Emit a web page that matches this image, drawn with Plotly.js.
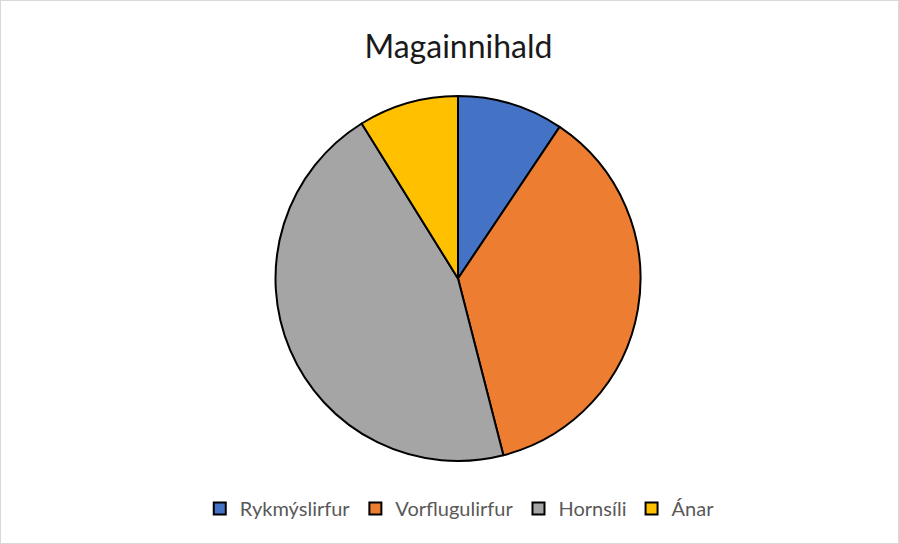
<!DOCTYPE html>
<html>
<head>
<meta charset="utf-8">
<script src="https://cdn.plot.ly/plotly-3.0.1.min.js"></script>
<style>
  html, body { margin: 0; padding: 0; background: #fff; }
  #wrap { position: relative; width: 899px; height: 544px; }
  #chart { width: 899px; height: 544px; }
  #frame { position: absolute; left: 0; top: 0; width: 899px; height: 544px; box-sizing: border-box; border: 1px solid #d9d9d9; pointer-events: none; }
</style>
</head>
<body>
<div id="wrap"><div id="chart"></div><div id="frame"></div></div>
<script>
const categories = ["Rykmýslirfur", "Vorflugulirfur", "Hornsíli", "Ánar"];
const values = [9.4, 36.6, 45.15, 8.85];
const colors = ["#4472C4", "#ED7D31", "#A5A5A5", "#FFC000"];

const data = [{
  type: "pie",
  labels: categories,
  values: values,
  sort: false,
  direction: "clockwise",
  rotation: 0,
  textinfo: "none",
  hoverinfo: "label+percent",
  marker: { colors: colors, line: { color: "#000000", width: 2 } }
}];

const layout = {
  width: 899,
  height: 544,
  margin: { l: 17, r: 0, t: 96, b: 83, pad: 0 },
  paper_bgcolor: "#ffffff",
  plot_bgcolor: "#ffffff",
  font: { family: "Lato, sans-serif", color: "#595959" },
  title: {
    text: "Magainnihald",
    font: { family: "Lato, sans-serif", size: 32, color: "#1a1a1a" },
    x: 0.51, xanchor: "center",
    y: 1 - 47 / 544, yanchor: "middle", yref: "container"
  },
  showlegend: true,
  legend: {
    orientation: "h",
    x: 0.502, xanchor: "center",
    y: -0.13, yanchor: "middle",
    font: { family: "Lato, sans-serif", size: 20, color: "#595959" },
    itemwidth: 30,
    traceorder: "normal"
  }
};

Plotly.newPlot("chart", data, layout, { displayModeBar: false, staticPlot: true });
</script>
</body>
</html>
